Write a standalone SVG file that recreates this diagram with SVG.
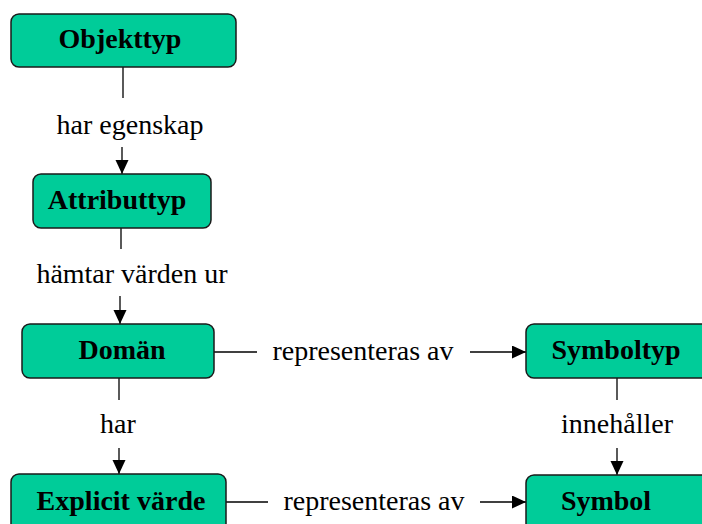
<svg xmlns="http://www.w3.org/2000/svg" width="702" height="524" viewBox="0 0 702 524">
<style>
.box{fill:#00CC99;stroke:#1a1a1a;stroke-width:1.5}
.nl{font-family:"Liberation Serif","Times New Roman",serif;font-weight:bold;font-size:28px;fill:#000;text-anchor:middle}
.el{font-family:"Liberation Serif","Times New Roman",serif;font-size:28px;fill:#000;text-anchor:middle}
.ln{stroke:#000;stroke-width:1.3;fill:none}
</style>
<defs>
<marker id="ah" markerUnits="userSpaceOnUse" markerWidth="16" markerHeight="14" refX="14" refY="6.5" orient="auto">
<path d="M0,0 L14,6.5 L0,13 Z" fill="#000"/>
</marker>
</defs>
<rect width="702" height="524" fill="#fff"/>
<g id="connectors">
<line class="ln" x1="123" y1="67" x2="123" y2="98"/>
<line class="ln" x1="122" y1="147" x2="122" y2="174" marker-end="url(#ah)"/>
<line class="ln" x1="121" y1="228" x2="121" y2="249"/>
<line class="ln" x1="120" y1="296" x2="120" y2="324" marker-end="url(#ah)"/>
<line class="ln" x1="119" y1="378" x2="119" y2="400"/>
<line class="ln" x1="119" y1="448" x2="119" y2="474" marker-end="url(#ah)"/>
<line class="ln" x1="617" y1="378" x2="617" y2="400"/>
<line class="ln" x1="617" y1="448" x2="617" y2="475" marker-end="url(#ah)"/>
<line class="ln" x1="214" y1="352" x2="257" y2="352"/>
<line class="ln" x1="470" y1="352" x2="526" y2="352" marker-end="url(#ah)"/>
<line class="ln" x1="226" y1="502" x2="268" y2="502"/>
<line class="ln" x1="480" y1="502" x2="526" y2="502" marker-end="url(#ah)"/>
<text class="el" x="130" y="134">har egenskap</text>
<text class="el" x="132" y="283">hämtar värden ur</text>
<text class="el" x="118" y="433">har</text>
<text class="el" x="617" y="433">innehåller</text>
<text class="el" x="363" y="360">representeras av</text>
<text class="el" x="374" y="510">representeras av</text>
</g>
<g id="objekttyp"><rect class="box" x="11" y="14" width="225" height="53" rx="8"/><text class="nl" x="120" y="48">Objekttyp</text></g>
<g id="attributtyp"><rect class="box" x="33" y="174" width="178" height="54" rx="8"/><text class="nl" x="117" y="209">Attributtyp</text></g>
<g id="doman"><rect class="box" x="22" y="324" width="192" height="54" rx="8"/><text class="nl" x="122" y="359">Domän</text></g>
<g id="explicit-varde"><rect class="box" x="11" y="474" width="215" height="60" rx="8"/><text class="nl" x="121" y="510">Explicit värde</text></g>
<g id="symboltyp"><rect class="box" x="526" y="324" width="185" height="54" rx="8"/><text class="nl" x="616" y="359">Symboltyp</text></g>
<g id="symbol"><rect class="box" x="526" y="475" width="185" height="60" rx="8"/><text class="nl" x="606" y="510">Symbol</text></g>
</svg>
